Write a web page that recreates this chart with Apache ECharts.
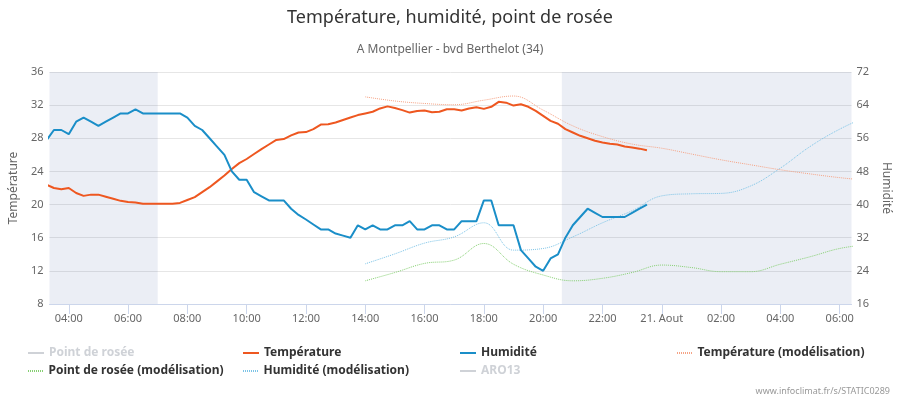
<!DOCTYPE html>
<html>
<head>
<meta charset="utf-8">
<script src="https://cdn.jsdelivr.net/npm/echarts@6/dist/echarts.min.js"></script>
<style>
html,body{margin:0;padding:0;background:#fff;}
#chart{width:900px;height:400px;}
</style>
</head>
<body>
<div id="chart"></div>
<script>
// heures depuis le 20 aout 00:00 ; mesures toutes les 15 min a partir de 03:15
var obsStart = 3.25;
var obsStep = 0.25;
var obsTemp = [22.4,22.0,21.85,22.0,21.4,21.05,21.2,21.2,20.95,20.7,20.45,20.3,20.25,20.1,20.1,20.1,20.1,20.1,20.2,20.55,
	20.9,21.5,22.1,22.8,23.5,24.3,25.0,25.5,26.1,26.7,27.25,27.8,27.9,28.35,28.7,28.75,29.1,29.65,29.7,29.9,
	30.2,30.5,30.8,31.0,31.2,31.6,31.85,31.65,31.4,31.1,31.3,31.35,31.15,31.2,31.5,31.5,31.35,31.6,31.75,31.55,
	31.8,32.4,32.3,31.95,32.1,31.8,31.3,30.7,30.1,29.75,29.1,28.7,28.3,28.0,27.7,27.5,27.35,27.25,27.0,26.9,
	26.75,26.55];
var obsHum = [55.5,58,58,57,60,61,60,59,60,61,62,62,63,62,62,62,62,62,62,61,
	59,58,56,54,52,48,46,46,43,42,41,41,41,39,37.5,36.4,35.2,34,34,33,
	32.5,32,35,34,35,34,34,35,35,36,34,34,35,35,34,34,36,36,36,41,
	41,35,35,35,29,27,25,24,27,28,32,35,37,39,38,37,37,37,37,38,
	39,40];
var obsDew = [];
var aro13 = [];

// modelisation horaire de 14:00 a 07:00 le 21
var modelHours = [14,15,16,17,18,19,20,21,22,23,24,25,26,27,28,29,30,31];
var modelTemp = [33.0,32.5,32.2,32.05,32.6,33.1,31.4,29.5,28.2,27.3,26.8,26.1,25.4,24.8,24.2,23.7,23.25,22.9];
var modelHum = [25.7,28.1,30.7,32.2,35.6,29.0,29.4,32.2,35.6,38.5,42.1,42.6,42.7,44.5,48.8,54.0,58.2,61.5];
var modelDew = [10.8,11.8,12.9,13.3,15.3,12.8,11.5,10.8,11.1,11.8,12.7,12.4,11.9,11.9,12.8,13.7,14.7,15.2];

// nuit (zones grisees)
var nightBands = [[3.35, 7.0], [20.63, 30.4]];
var xTicks = [4,6,8,10,12,14,16,18,20,22,24,26,28,30];

var font = '"Noto Sans", sans-serif';

function pairs(times, vals){
	var out = [];
	for(var i=0;i<vals.length;i++){
		out.push([times[i], vals[i]]);
	}
	return out;
}
var obsTimes = obsTemp.map(function(v,i){ return obsStart + i*obsStep; });

function hourLabel(v){
	var h = Math.round(v) % 24;
	if(h == 0) return '21. Aout';
	return (h<10 ? '0'+h : h) + ':00';
}

var solidIcon = 'rect';
var dotIcon = 'path://M0,0h1v2h-1zM2,0h1v2h-1zM4,0h1v2h-1zM6,0h1v2h-1zM8,0h1v2h-1zM10,0h1v2h-1zM12,0h1v2h-1zM14,0h1v2h-1z';

function legendAt(name, icon, color, left, top, selected){
	var l = {
		data: [{name: name, icon: icon, itemStyle: {color: color, borderWidth: 0}}],
		left: left,
		top: top,
		padding: 0,
		itemWidth: 16,
		itemHeight: 2,
		textStyle: {fontFamily: font, fontWeight: 'bold', fontSize: 12, color: '#333', lineHeight: 14}
	};
	if(selected === false){
		l.selected = {};
		l.selected[name] = false;
	}
	return l;
}

var chart = echarts.init(document.getElementById('chart'));
var option = {
	animation: false,
	textStyle: {fontFamily: font},
	title: [{
		text: 'Température, humidité, point de rosée',
		left: 'center',
		top: 9,
		padding: 0,
		textStyle: {fontFamily: font, fontSize: 18, fontWeight: 'normal', color: '#333'}
	}, {
		text: 'A Montpellier - bvd Berthelot (34)',
		left: 'center',
		top: 44,
		padding: 0,
		textStyle: {fontFamily: font, fontSize: 12, fontWeight: 'normal', color: '#666'}
	}],
	legend: [
		legendAt('Point de rosée', solidIcon, '#ccc', 28, 346, false),
		legendAt('Température', solidIcon, '#ee5720', 243, 346),
		legendAt('Humidité', solidIcon, '#1a8ec8', 460, 346),
		legendAt('Température (modélisation)', dotIcon, '#f5a385', 677, 346),
		legendAt('Point de rosée (modélisation)', dotIcon, '#86cf72', 28, 364),
		legendAt('Humidité (modélisation)', dotIcon, '#7cc3e6', 243, 364),
		legendAt('ARO13', solidIcon, '#eee', 460, 364, false)
	],
	grid: {left: 49, right: 47, top: 72, bottom: 96},
	xAxis: {
		type: 'value',
		min: 3.35,
		max: 30.4,
		splitLine: {show: false},
		axisLine: {lineStyle: {color: '#ccd6eb'}},
		axisTick: {show: true, customValues: xTicks, length: 10, lineStyle: {color: '#ccd6eb'}},
		axisLabel: {customValues: xTicks, formatter: hourLabel, color: '#666', fontSize: 11, margin: 9, fontFamily: font}
	},
	yAxis: [{
		type: 'value',
		min: 8, max: 36, interval: 4,
		name: 'Température',
		nameLocation: 'middle',
		nameGap: 24,
		nameRotate: 90,
		nameTextStyle: {color: '#666', fontSize: 12, fontFamily: font},
		axisLine: {show: false},
		axisTick: {show: false},
		axisLabel: {color: '#666', fontSize: 11, margin: 6, fontFamily: font},
		splitLine: {lineStyle: {color: '#e6e6e6'}}
	}, {
		type: 'value',
		min: 16, max: 72, interval: 8,
		name: 'Humidité',
		nameLocation: 'middle',
		nameGap: 26,
		nameRotate: -90,
		nameTextStyle: {color: '#666', fontSize: 12, fontFamily: font},
		axisLine: {show: false},
		axisTick: {show: false},
		axisLabel: {color: '#666', fontSize: 11, margin: 5, fontFamily: font},
		splitLine: {show: false}
	}],
	graphic: [{
		type: 'text',
		right: 10,
		top: 387,
		style: {text: 'www.infoclimat.fr/s/STATIC0289', fill: '#999', font: '9px "Noto Sans", sans-serif'}
	}],
	series: [{
		name: 'nuit',
		type: 'line',
		data: [],
		silent: true,
		markArea: {
			silent: true,
			itemStyle: {color: 'rgba(55,85,155,0.1)'},
			data: nightBands.map(function(b){ return [{xAxis: b[0]}, {xAxis: b[1]}]; })
		}
	}, {
		name: 'Point de rosée',
		type: 'line',
		data: obsDew,
		showSymbol: false,
		itemStyle: {color: '#999'},
		lineStyle: {width: 2, color: '#999'}
	}, {
		name: 'ARO13',
		type: 'line',
		data: aro13,
		showSymbol: false,
		itemStyle: {color: '#ccc'},
		lineStyle: {width: 2, color: '#ccc'}
	}, {
		name: 'Point de rosée (modélisation)',
		type: 'line',
		yAxisIndex: 0,
		smooth: 0.4,
		showSymbol: false,
		data: pairs(modelHours, modelDew),
		itemStyle: {color: '#86cf72'},
		lineStyle: {width: 1, type: [1,1], color: '#86cf72'}
	}, {
		name: 'Humidité (modélisation)',
		type: 'line',
		yAxisIndex: 1,
		smooth: 0.4,
		showSymbol: false,
		data: pairs(modelHours, modelHum),
		itemStyle: {color: '#7cc3e6'},
		lineStyle: {width: 1, type: [1,1], color: '#7cc3e6'}
	}, {
		name: 'Température (modélisation)',
		type: 'line',
		yAxisIndex: 0,
		smooth: 0.4,
		showSymbol: false,
		data: pairs(modelHours, modelTemp),
		itemStyle: {color: '#f5a385'},
		lineStyle: {width: 1, type: [1,1], color: '#f5a385'}
	}, {
		name: 'Température',
		type: 'line',
		yAxisIndex: 0,
		showSymbol: false,
		data: pairs(obsTimes, obsTemp),
		itemStyle: {color: '#ee5720'},
		lineStyle: {width: 2, color: '#ee5720'}
	}, {
		name: 'Humidité',
		type: 'line',
		yAxisIndex: 1,
		showSymbol: false,
		data: pairs(obsTimes, obsHum),
		itemStyle: {color: '#1a8ec8'},
		lineStyle: {width: 2, color: '#1a8ec8'}
	}]
};
chart.setOption(option);
</script>
</body>
</html>
